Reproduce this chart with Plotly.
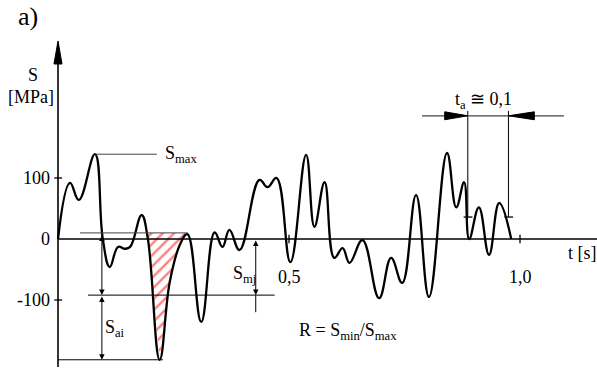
import plotly.graph_objects as go

# ---- data ----
t_knots = [0.000, 0.026, 0.045, 0.080, 0.097, 0.112, 0.130, 0.145, 0.156, 0.181,
           0.194, 0.220, 0.242, 0.2635, 0.280, 0.310, 0.339, 0.356, 0.371, 0.393,
           0.436, 0.4536, 0.473, 0.503, 0.537, 0.555, 0.577, 0.598, 0.616, 0.631,
           0.659, 0.695, 0.721, 0.745, 0.775, 0.803, 0.842, 0.862, 0.879, 0.890,
           0.911, 0.933, 0.955, 0.981]
s_knots = [0, 92, 64, 139, 0, -46, -13, -16, -13, 39,
           3, -198, -70, -10, 8, -136, 11, -13, 15, -18,
           97, 85, 100, -38, 138, 20, 93, -31, -15, -39,
           -2, -97, -31, -72, 72, -95, 141, 52, 93, 0,
           52, -26, 59, 0]

# hatched S_ai region (curve part below the reference level)
hatch_t = [0.190, 0.194, 0.220, 0.242, 0.2635, 0.280]
hatch_s = [10, 3, -198, -70, -10, 10]

y_ticks = [100, 0, -100]
y_tick_labels = ["100", "0", "-100"]
x_ticks = [0.5, 1.0]
x_tick_labels = ["0,5", "1,0"]

S_max = 139
S_ref = 10
S_m_level = -92
S_min = -198
t_a_left, t_a_right = 0.887, 0.975

FONT = "Liberation Serif, 'Times New Roman', Times, serif"
BLACK = "#000000"
GRAY = "#444444"

fig = go.Figure()

# hatched area
fig.add_trace(go.Scatter(
    x=hatch_t, y=hatch_s, mode="lines", fill="toself",
    line=dict(width=0, color="rgba(0,0,0,0)"),
    fillcolor="rgba(255,255,255,0)",
    fillpattern=dict(shape="/", fgcolor="#ff0000", bgcolor="rgba(255,255,255,0)",
                     size=8, solidity=0.3),
    hoverinfo="skip", showlegend=False))

# main signal
fig.add_trace(go.Scatter(
    x=t_knots, y=s_knots, mode="lines",
    line=dict(color=BLACK, width=2.3, shape="spline", smoothing=1.2),
    hoverinfo="skip", showlegend=False))

shapes = []
def seg(x0, y0, x1, y1, color=BLACK, width=1.0):
    shapes.append(dict(type="line", x0=x0, y0=y0, x1=x1, y1=y1,
                       xref="x", yref="y", line=dict(color=color, width=width)))

# axes
seg(0, -210, 0, 320, width=1.6)          # y axis
seg(0, 0, 1.167, 0, width=1.3)           # t axis
shapes.append(dict(type="path", xref="x", yref="y",
                   path="M 0,324.6 L -0.0087,286.9 L 0.0087,286.9 Z",
                   fillcolor=BLACK, line=dict(color=BLACK, width=1)))
for v in y_ticks:
    if v != 0:
        seg(-0.008, v, 0.009, v, width=1.3)
for v in x_ticks:
    seg(v, 7, v, -7, width=1.3)

# reference lines
seg(0.080, S_max, 0.214, S_max, color=GRAY, width=1)
seg(0.0475, S_ref, 0.281, S_ref, color=GRAY, width=1)
seg(0.065, S_m_level, 0.469, S_m_level, color=BLACK, width=1)
seg(0.0, S_min, 0.227, S_min, color=BLACK, width=1)
seg(0.428, S_m_level, 0.428, -120, color=BLACK, width=1)

# t_a dimension
seg(t_a_left, 210, t_a_left, 36, color=BLACK, width=1)
seg(t_a_right, 210, t_a_right, 36, color=BLACK, width=1)
seg(0.788, 202, 1.095, 202, color=GRAY, width=1.2)
seg(t_a_left - 0.009, 36, t_a_left + 0.010, 36, width=1.3)
seg(t_a_right - 0.009, 36, t_a_right + 0.010, 36, width=1.3)
shapes.append(dict(type="path", xref="x", yref="y",
                   path=f"M {t_a_left},202 L {t_a_left-0.05},208.5 L {t_a_left-0.05},195.5 Z",
                   fillcolor=BLACK, line=dict(color=BLACK, width=1)))
shapes.append(dict(type="path", xref="x", yref="y",
                   path=f"M {t_a_right},202 L {t_a_right+0.056},208.5 L {t_a_right+0.056},195.5 Z",
                   fillcolor=BLACK, line=dict(color=BLACK, width=1)))

ann = []
def darrow(x, y0, y1):
    ann.append(dict(x=x, y=y1, ax=x, ay=y0, xref="x", yref="y", axref="x", ayref="y",
                    text="", showarrow=True, arrowhead=2, startarrowhead=2,
                    arrowside="end+start", arrowwidth=1, arrowsize=1.1,
                    startarrowsize=1.1, arrowcolor=BLACK))

darrow(0.095, S_ref - 2, S_m_level)
darrow(0.095, S_m_level, S_min)
darrow(0.428, 0, S_m_level)

def txt(x, y, s, size=18, xanchor="center", yanchor="middle"):
    ann.append(dict(x=x, y=y, xref="x", yref="y", text=s, showarrow=False,
                    xanchor=xanchor, yanchor=yanchor,
                    font=dict(family=FONT, size=size, color=BLACK)))

for v, lab in zip(y_ticks, y_tick_labels):
    txt(-0.013, v, lab, xanchor="right")
for v, lab in zip(x_ticks, x_tick_labels):
    txt(v, -62, lab)

txt(-0.054, 269, "S")
txt(-0.058, 233, "[MPa]")
txt(-0.065, 364, "a)", size=26)
txt(0.228, S_max - 1, "S<sub>max</sub>", xanchor="left")
txt(0.098, -146, "S<sub>ai</sub>", xanchor="left")
txt(0.375, -58, "S<sub>mj</sub>", xanchor="left")
txt(1.100, -23, "t [s]", xanchor="left")
txt(0.922, 227, "t<sub>a</sub> ≅ 0,1")
txt(0.628, -151, "R = S<sub>min</sub>/S<sub>max</sub>")

fig.update_layout(
    width=597, height=371, margin=dict(l=0, r=0, t=0, b=0),
    paper_bgcolor="white", plot_bgcolor="white",
    font=dict(family=FONT),
    xaxis=dict(range=[-0.12554, 1.16667], visible=False, fixedrange=True),
    yaxis=dict(range=[-216.4, 391.8], visible=False, fixedrange=True),
    shapes=shapes, annotations=ann, showlegend=False)

fig.write_html("out.html")
